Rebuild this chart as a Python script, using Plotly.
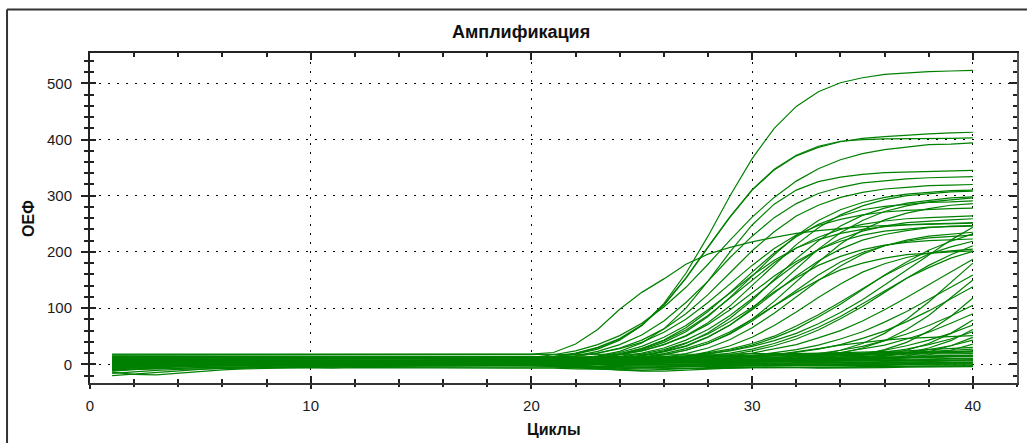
import plotly.graph_objects as go

CYCLES = [1, 2, 3, 4, 5, 6, 7, 8, 9, 10, 11, 12, 13, 14, 15, 16, 17, 18, 19, 20,
          21, 22, 23, 24, 25, 26, 27, 28, 29, 30, 31, 32, 33, 34, 35, 36, 37, 38, 39, 40]

# Wells that never amplify (baseline noise)
BASELINE_CURVES = [
    [17,17,17,17,17,17,17,17,17,17,17,17,17,17,17,17,17,17,17,17, 17,17,17,18,18,18,18,18,18,19, 19,19,20,20,20,21,21,21,22,22],
    [12,12,12,13,13,12,12,13,13,13,12,12,13,13,13,12,12,12,13,13, 13,12,12,13,13,14,14,14,15,15, 15,16,16,16,17,17,18,18,19,19],
    [-6,-2,0,1,2,2,3,3,3,4,4,3,3,4,4,4,3,3,4,4, 4,3,3,2,2,3,3,4,4,4, 5,5,5,6,6,6,7,7,7,8],
    [-20,-17,-14,-11,-9,-7,-6,-5,-4,-4,-3,-3,-2,-2,-2,-1,-1,-1,0,0, -1,-2,-3,-2,-2,-1,-1,0,0,0, 0,1,1,1,2,2,2,3,3,3],
    [-14,-18,-19,-16,-12,-10,-8,-7,-6,-5,-5,-4,-4,-3,-3,-3,-2,-2,-2,-2, -3,-5,-7,-8,-6,-5,-4,-4,-3,-3, -3,-3,-2,-2,-2,-2,-1,-1,-1,-1],
    [8,8,9,9,9,8,8,8,9,9,9,9,10,10,9,9,9,8,8,8, 8,9,9,10,10,10,11,11,11,12, 12,12,13,13,14,14,15,15,16,16],
    [2,3,3,2,2,2,1,1,2,2,2,1,1,1,2,2,2,1,1,1, 0,0,-1,-1,0,0,0,1,1,1, 2,2,2,3,3,4,4,5,5,6],
    [-8,-6,-5,-4,-3,-3,-2,-2,-2,-1,-1,-1,0,0,0,0,1,1,1,0, -2,-5,-8,-10,-11,-9,-7,-6,-5,-5, -6,-6,-7,-7,-6,-6,-5,-5,-5,-4],
    [5,5,6,6,6,6,5,5,5,6,6,7,7,7,6,6,6,5,5,5, 5,6,6,6,7,7,7,8,8,9, 9,10,10,11,11,12,12,13,14,15],
    [-4,-3,-2,-2,-1,-1,0,0,0,0,1,1,1,0,0,0,1,1,1,2, 2,1,1,0,0,0,-1,-1,-2,-2, -2,-1,-1,0,0,1,1,2,2,3],
    [10,10,10,10,11,11,11,11,10,10,10,11,11,12,12,12,11,11,11,10, 10,10,11,11,12,12,13,14,15,16, 17,18,19,20,21,23,24,26,28,30],
    [0,1,1,1,2,2,2,3,3,3,2,2,2,3,3,3,4,4,4,3, 3,3,2,2,3,3,4,4,5,5, 6,6,7,7,8,8,9,10,10,11],
    [-10,-9,-8,-7,-6,-5,-4,-4,-3,-3,-3,-2,-2,-2,-2,-3,-3,-3,-2,-2, -4,-6,-9,-11,-12,-12,-10,-8,-7,-6, -6,-5,-5,-5,-4,-4,-4,-3,-3,-3],
    [15,15,15,15,15,14,14,14,15,15,15,15,14,14,14,15,15,15,14,14, 13,13,13,14,14,14,15,15,16,16, 17,17,18,18,19,20,21,22,23,24],
    [-16,-13,-11,-9,-8,-7,-7,-6,-6,-7,-7,-6,-6,-6,-7,-7,-7,-6,-6,-6, -7,-8,-9,-9,-8,-8,-7,-7,-7,-6, -6,-6,-5,-5,-5,-4,-4,-4,-3,-3],
    [-9,-8,-7,-6,-6,-5,-5,-5,-4,-4,-4,-5,-5,-5,-4,-4,-4,-4,-5,-5, -5,-6,-6,-5,-5,-4,-4,-4,-3,-3, -3,-2,-2,-2,-1,-1,0,0,1,1],
    [-3,-3,-2,-2,-2,-3,-3,-3,-2,-2,-2,-2,-3,-3,-3,-2,-2,-2,-2,-2, -3,-3,-4,-4,-3,-3,-2,-2,-2,-1, -1,0,0,1,1,2,2,3,3,4],
    [-5,-3,-2,-1,-1,-1,0,0,0,-1,-1,-1,0,0,0,-1,-1,0,0,0, 0,-1,-1,-1,0,0,1,1,1,2, 2,3,3,4,4,5,5,6,7,8],
    [1,1,2,2,2,1,1,1,1,2,2,2,1,1,1,2,2,2,1,1, 1,1,2,2,2,3,3,3,4,4, 4,5,5,6,6,7,8,8,9,10],
    [3,4,4,4,3,3,3,3,4,4,4,3,3,3,4,4,4,3,3,3, 3,4,4,4,5,5,5,6,6,6, 7,7,8,8,9,10,11,12,13,14],
    [7,6,6,5,5,5,5,6,6,6,5,5,5,5,6,6,6,5,5,5, 5,5,6,6,6,7,7,7,8,8, 8,9,9,10,10,11,12,13,14,15],
    [7,7,7,8,8,8,7,7,7,7,8,8,8,7,7,7,7,8,8,8, 7,7,7,8,8,8,9,9,9,10, 10,10,11,11,12,12,13,14,15,16],
    [10,10,10,9,9,9,9,10,10,10,9,9,9,9,10,10,10,9,9,9, 9,9,10,10,10,11,11,11,12,12, 13,13,14,15,16,17,18,19,20,22],
    [11,11,11,11,12,12,12,11,11,11,11,12,12,12,11,11,11,12,12,12, 11,11,11,12,12,12,13,13,14,14, 15,15,16,17,18,19,20,21,22,23],
    [14,14,14,13,13,13,13,14,14,14,13,13,13,13,14,14,14,13,13,13, 12,12,12,13,13,13,14,14,15,15, 16,16,17,18,19,20,21,23,25,27],
    [-11,-8,-6,-4,-3,-2,-2,-1,-1,-1,0,0,0,-1,-1,-1,0,0,0,-1, -2,-4,-6,-7,-6,-5,-4,-3,-3,-2, -2,-2,-1,-1,-1,0,0,0,1,1],
]

# Earliest / highest wells
EARLY_CURVES = [
    [2,3,4,4,5,5,4,4,4,5,5,5,4,4,5,5,6,6,7, 9,12,18,27,43,69,108,162,228,300,366,420,459,485,501,510,516,519,521,522,523],
    [-3,1,3,4,4,5,5,5,6,6,5,5,5,6,6,6,7,7,8, 10,13,19,29,45,69,105,153,208,262,310,346,371,386,396,402,405,408,410,412,413],
    [6,6,7,7,6,6,6,7,7,7,6,6,6,7,7,8,8,8,9, 11,14,20,30,46,70,106,154,209,263,311,347,372,388,397,400,401,401,402,402,403],
    [1,2,2,3,3,2,2,2,3,3,3,3,4,4,4,5,5,6,8, 12,17,24,35,51,73,102,137,178,221,262,297,326,348,364,375,382,387,391,392,394],
    [3,4,4,4,5,5,5,4,4,4,4,5,5,5,5,4,4,5,5, 6,7,10,15,23,38,63,100,148,200,248,285,310,325,333,338,341,342,343,344,345],
    [18,18,18,18,18,18,18,18,18,18,18,18,18,18,18,18,18,18,18,18, 21,36,62,98,128,152,178,196,208,218,226,233,238,242,245,247,249,250,251,252],
]

# Wells plateauing around 280-335
MID_CURVES = [
    [-5,-1,1,2,3,3,3,2,2,3,3,3,4,4,4,4,4,5,6, 8,11,15,23,35,52,77,110,148,190,228,261,286,304,315,323,327,330,332,333,334],
    [7,6,5,5,5,6,6,6,5,5,5,5,6,6,6,7,7,7,8, 9,11,14,20,29,43,63,90,124,163,202,236,264,283,297,306,312,315,318,319,320],
    [0,1,1,2,2,2,1,1,2,2,2,3,3,2,2,2,3,3,3, 4,5,8,11,17,26,39,58,85,119,157,195,229,256,275,288,297,303,306,309,310],
    [9,8,7,7,6,6,6,7,7,7,7,6,6,6,7,7,7,7,8, 8,9,10,13,17,24,35,51,74,104,140,177,213,243,266,282,293,300,304,307,308],
    [-12,-9,-6,-4,-3,-2,-1,-1,0,0,0,1,1,1,0,0,1,1,1, 2,3,4,6,10,15,24,37,56,82,114,151,188,220,246,265,278,287,292,296,298],
    [4,4,5,5,5,4,4,4,4,5,5,5,5,4,4,4,5,5,5, 5,6,7,8,11,15,22,32,48,70,99,134,170,205,234,256,272,282,289,293,296],
    [-7,-5,-3,-2,-1,-1,0,0,0,-1,-1,0,0,0,1,1,1,1,2, 3,4,7,11,18,28,43,65,94,128,164,198,227,249,264,275,281,285,288,289,291],
    [2,2,3,3,3,3,2,2,2,3,3,3,4,4,3,3,3,3,4, 4,4,5,6,8,11,17,25,37,55,80,112,147,182,214,239,257,269,277,283,286],
    [9,9,8,8,8,8,7,7,7,7,8,8,8,8,7,7,8,8,9, 10,12,15,20,28,39,57,80,110,143,176,206,230,247,258,266,271,274,276,277,278],
]

# Wells plateauing around 200-265
LOW_PLATEAU_CURVES = [
    [1,2,2,3,3,3,4,4,3,3,3,2,2,3,3,3,4,4,4, 5,7,9,13,19,28,42,61,87,118,150,181,207,226,240,249,255,259,261,263,264],
    [-2,1,3,4,4,5,5,5,5,4,4,5,5,5,6,6,5,5,6, 6,7,9,11,14,20,29,43,62,87,117,149,179,204,223,237,246,252,255,257,259],
    [3,3,2,2,2,2,3,3,3,2,2,2,2,3,3,3,3,4,4, 5,7,9,14,21,32,48,69,97,127,158,185,207,222,233,240,245,248,249,250,251],
    [6,5,5,4,4,4,4,3,3,4,4,4,5,5,5,4,4,4,4, 5,6,7,8,11,16,23,33,49,70,97,127,157,184,205,221,231,238,243,246,247],
    [8,7,7,7,6,6,6,6,7,7,7,6,6,6,6,7,7,7,7, 8,9,10,13,17,24,35,50,71,97,127,157,183,204,219,230,237,241,244,245,246],
    [-3,-1,0,0,1,1,1,0,0,0,1,1,1,2,2,2,1,1,1, 2,2,3,4,5,8,12,19,29,44,65,91,120,149,175,196,211,221,228,232,235],
    [3,3,3,4,4,4,3,3,3,3,2,2,2,3,3,3,3,3,4, 4,4,5,6,8,12,17,25,37,54,77,104,132,159,182,199,211,219,225,228,230],
    [10,8,7,6,6,5,5,5,5,5,6,6,6,5,5,5,5,6,6, 6,7,8,10,13,18,26,38,54,76,101,129,154,176,192,204,212,217,220,222,223],
    [1,1,2,2,2,1,1,1,2,2,2,2,1,1,1,2,2,2,2, 2,3,3,4,5,7,10,14,22,33,48,69,93,119,143,164,179,190,198,202,205],
    [5,5,4,4,4,5,5,5,4,4,4,4,5,5,5,5,4,4,5, 5,5,6,8,10,13,19,28,40,58,80,104,128,150,168,180,189,195,198,200,202],
]

# Wells with a gentle rise from cycle ~30, ending around 200-245
LATER_MID_CURVES = [
    [4,4,3,3,3,4,4,4,3,3,3,3,4,4,4,3,3,3,4,4,4,4, 5,6,8,10,13,18,25,34,47,63,84,107,133,159,182,203,219,232],
    [-4,-1,1,2,2,3,3,3,2,2,2,3,3,3,4,4,3,3,3,2,2,3,4, 5,6,8,10,13,17,24,33,45,61,81,103,128,153,176,195,211],
    [5,4,4,4,3,3,3,3,4,4,4,3,3,3,3,4,4,4,3,3,3,4,5,6, 9,11,14,19,24,32,42,55,72,92,115,141,168,195,221,244],
    [6,5,5,5,4,4,4,4,5,5,5,4,4,4,4,5,5,5,4,4,4,5,5,6, 7,9,11,15,20,27,37,50,66,85,108,130,153,172,189,201],
    [2,2,3,3,3,3,2,2,2,3,3,3,3,2,2,2,3,3,3,4,4,5,5,6, 8,11,14,20,27,37,50,68,88,111,135,158,178,196,209,219],
]

# Late wells, still rising at cycle 40
LATE_CURVES = [
    [3,3,2,2,2,1,1,2,2,2,3,3,2,2,2,1,1,1,2,2,2,3,3, 5,6,7,9,12,15,20,27,35,47,60,77,97,119,142,165,187],
    [1,2,2,3,3,3,3,2,2,2,3,3,3,4,4,3,3,3,2,2,1,1,2,2,3,3,3,4, 5,6,8,11,16,25,37,55,80,111,146,180],
    [-1,0,1,1,2,2,2,2,1,1,1,2,2,2,3,3,2,2,2,1,0,-1,0,1, 4,5,7,9,11,15,20,26,34,45,58,75,94,115,137,159],
    [7,6,6,5,5,5,4,4,4,4,5,5,5,4,4,4,4,5,5,5,4,4,4,3,3,4,4,4, 5,6,8,10,14,20,29,42,62,87,118,150],
    [2,2,3,3,3,4,4,4,3,3,3,3,2,2,3,3,3,4,4,3,2,1,1,2,3, 5,6,8,10,12,16,21,27,35,46,59,76,95,116,138],
    [4,4,3,3,3,3,2,2,3,3,3,4,4,4,3,3,3,3,2,2,2,3,3,3,4,4,3,3,4,4, 5,6,8,12,17,26,39,59,85,118],
    [9,7,6,5,5,4,4,4,4,5,5,5,5,4,4,4,4,5,5,5,5,4,3,3,4,4, 5,6,7,9,11,15,19,25,32,42,54,69,86,105],
    [3,3,4,4,4,4,5,5,5,5,4,4,4,4,5,5,5,4,4,4,3,2,2,3,3,4,4, 6,7,9,10,13,16,21,27,34,45,57,73,90],
    [-8,-5,-3,-1,0,1,2,2,3,3,3,4,4,4,4,3,3,4,4,4,3,1,0,0,1,2,3,3,4,4,5, 6,7,9,12,17,25,37,55,79],
    [5,5,4,4,4,3,3,3,3,3,4,4,4,3,3,3,2,2,3,3,3,3,4,4,4,3,3,3, 5,6,8,9,12,15,19,25,33,43,55,70],
    [2,2,3,3,3,4,4,4,4,3,3,3,4,4,4,5,5,5,4,4,4,5,5,5,4,4,4,4,4,5,5, 5,6,8,10,14,20,29,42,62],
    [6,6,6,5,5,5,5,4,4,4,4,5,5,5,5,6,6,5,5,5,4,4,3,3,4,4,5,5,5, 6,7,9,10,13,16,21,27,35,45,58],
    [0,1,2,2,3,3,3,3,4,4,4,4,3,3,3,4,4,4,5,5,5,4,4,4,3,3,4,4,4,5,5,5, 6,7,8,11,15,22,33,48],
    [4,4,4,5,5,5,5,5,4,4,4,4,3,3,3,4,4,4,4,5,5,5,4,4,4,4,4,5,5,5, 6,7,8,10,12,16,20,26,33,43],
    [8,7,6,6,5,5,5,5,4,4,4,4,4,5,5,5,5,4,4,4,4,3,3,3,4,4,4,4,5,5,5,5,5, 6,7,9,12,17,25,36],
    [3,3,3,4,4,4,4,4,3,3,3,3,4,4,4,5,5,5,5,4,4,4,4,4,4, 5,6,8,10,13,17,22,28,34,39,43,46,48,50,51],
]

TITLE = "Амплификация"
X_TITLE = "Циклы"
Y_TITLE = "ОЕФ"

LINE_COLOR = "#008000"
FONT = "Arial, 'Liberation Sans', sans-serif"

all_curves = (BASELINE_CURVES + EARLY_CURVES + MID_CURVES + LOW_PLATEAU_CURVES
              + LATER_MID_CURVES + LATE_CURVES)
for c in all_curves:
    assert len(c) == len(CYCLES), len(c)

fig = go.Figure()
for curve in all_curves:
    fig.add_trace(go.Scatter(x=CYCLES, y=curve, mode="lines",
                             line=dict(color=LINE_COLOR, width=1.2),
                             showlegend=False, hoverinfo="skip"))

# empty traces so the overlay axes (crossing ticks / mirrored frame) are drawn
fig.add_trace(go.Scatter(x=[None], y=[None], xaxis="x2", yaxis="y2", showlegend=False, hoverinfo="skip"))
fig.add_trace(go.Scatter(x=[None], y=[None], xaxis="x3", yaxis="y3", showlegend=False, hoverinfo="skip"))

XR = [0, 42]
YR = [-33.3, 554]
DOT = "2px,7px"

fig.update_layout(
    width=1027, height=443,
    margin=dict(l=90, r=10, t=53, b=60),
    paper_bgcolor="white", plot_bgcolor="white",
    font=dict(family=FONT, size=15, color="#1a1a1a"),
    xaxis=dict(range=XR, tick0=0, dtick=10, showline=True, linecolor="#333", linewidth=2,
               ticks="outside", ticklen=4, tickwidth=2, tickcolor="#222",
               minor=dict(dtick=2, ticks="outside", ticklen=2, tickwidth=1.5, tickcolor="#222", showgrid=False),
               showgrid=True, gridcolor="black", gridwidth=1, griddash=DOT,
               zeroline=False, tickfont=dict(size=15), ticklabelstandoff=4),
    xaxis2=dict(range=XR, overlaying="x", anchor="y2", side="bottom", tick0=0, dtick=10,
                ticks="inside", ticklen=7, tickwidth=2, tickcolor="#222",
                minor=dict(dtick=2, ticks="inside", ticklen=4, tickwidth=1.5, tickcolor="#222", showgrid=False),
                showticklabels=False, showgrid=False, showline=False, zeroline=False),
    xaxis3=dict(range=XR, overlaying="x", anchor="y3", side="top", tick0=0, dtick=10,
                ticks="inside", ticklen=7, tickwidth=1.5, tickcolor="#222",
                minor=dict(dtick=2, ticks="inside", ticklen=4, tickwidth=1.5, tickcolor="#222", showgrid=False),
                showticklabels=False, showgrid=False, showline=True, linecolor="#222", linewidth=2,
                zeroline=False),
    yaxis=dict(range=YR, tick0=0, dtick=100, showline=True, linecolor="#222", linewidth=2,
               ticks="outside", ticklen=7, tickwidth=2, tickcolor="#222",
               minor=dict(dtick=20, ticks="outside", ticklen=4, tickwidth=1.5, tickcolor="#222", showgrid=False),
               showgrid=True, gridcolor="black", gridwidth=1, griddash=DOT,
               zeroline=False, tickfont=dict(size=15), ticklabelstandoff=6),
    yaxis2=dict(range=YR, overlaying="y", anchor="x2", side="left", tick0=0, dtick=100,
                ticks="inside", ticklen=6, tickwidth=2, tickcolor="#222",
                minor=dict(dtick=20, ticks="inside", ticklen=4, tickwidth=1.5, tickcolor="#222", showgrid=False),
                showticklabels=False, showgrid=False, showline=False, zeroline=False),
    yaxis3=dict(range=YR, overlaying="y", anchor="x3", side="right", tick0=0, dtick=100,
                ticks="inside", ticklen=8, tickwidth=1.5, tickcolor="#222",
                minor=dict(dtick=20, ticks="inside", ticklen=4, tickwidth=1.5, tickcolor="#222", showgrid=False),
                showticklabels=False, showgrid=False, showline=True, linecolor="#555", linewidth=2,
                zeroline=False),
    annotations=[
        dict(text="<b>" + TITLE + "</b>", xref="paper", yref="paper", x=0.465, y=1.0636,
             xanchor="center", yanchor="middle", showarrow=False,
             font=dict(family=FONT, size=18, color="#111")),
        dict(text="<b>" + X_TITLE + "</b>", xref="paper", yref="paper", x=0.5, y=-0.1424,
             xanchor="center", yanchor="middle", showarrow=False,
             font=dict(family=FONT, size=16, color="#111")),
        dict(text="<b>" + Y_TITLE + "</b>", xref="paper", yref="paper", x=-0.0669, y=0.5,
             xanchor="center", yanchor="middle", showarrow=False, textangle=-90,
             font=dict(family=FONT, size=16, color="#111")),
    ],
    shapes=[
        dict(type="line", xref="paper", yref="paper", x0=-0.0895, x1=1.02, y0=1.1318, y1=1.1318,
             line=dict(color="#333", width=2)),
        dict(type="line", xref="paper", yref="paper", x0=-0.0895, x1=-0.0895, y0=1.1318, y1=-0.25,
             line=dict(color="#333", width=2)),
    ],
)

fig.write_html("out.html")
